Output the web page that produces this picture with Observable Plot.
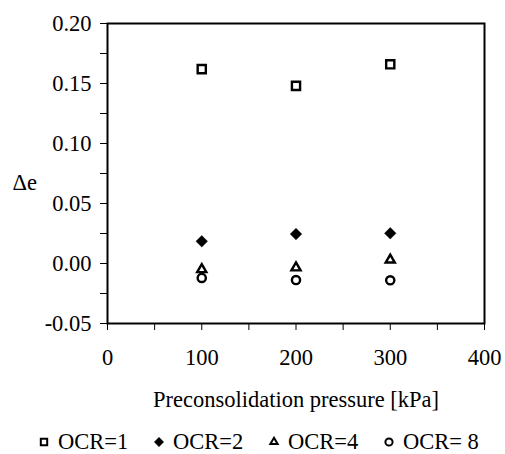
<!DOCTYPE html>
<html>
<head>
<meta charset="utf-8">
<script src="https://cdn.jsdelivr.net/npm/d3@7"></script>
<script src="https://cdn.jsdelivr.net/npm/@observablehq/plot@0.6"></script>
<style>
  html, body { margin: 0; padding: 0; background: #fff; font-family: 'Liberation Serif'; }
  #wrap { position: relative; width: 505px; height: 454px; font-family: 'Liberation Serif'; }
  #legend { position: absolute; left: 0; top: 429px; width: 505px; display: flex; padding-left: 38px; box-sizing: border-box; font-size: 22.5px; color: #000; font-family: 'Liberation Serif'; }
  .item { width: 115px; display: flex; align-items: center; white-space: nowrap; font-family: 'Liberation Serif'; }
  .item svg { margin-right: 8px; flex: none; }
  svg text { font-family: 'Liberation Serif'; }
</style>
</head>
<body>
<div id="wrap"><div id="chart"></div><div id="legend"></div></div>
<script>
// Data
const pressures = [100, 200, 300];
const ocr1 = [0.162, 0.148, 0.166];
const ocr2 = [0.0185, 0.0245, 0.0252];
const ocr4 = [-0.005, -0.0035, 0.003];
const ocr8 = [-0.012, -0.0138, -0.014];
const seriesNames = ["OCR=1", "OCR=2", "OCR=4", "OCR= 8"];
const xTicks = [0, 50, 100, 150, 200, 250, 300, 350, 400];
const xLabels = [0, 100, 200, 300, 400];
const yTicks = [-0.05, -0.025, 0, 0.025, 0.05, 0.075, 0.1, 0.125, 0.15, 0.175, 0.2];
const yLabels = [-0.05, 0, 0.05, 0.1, 0.15, 0.2];

const symbols = {"OCR=1": "square", "OCR=2": "diamond2", "OCR=4": "triangle", "OCR= 8": "circle"};
const fills = {"OCR=1": "white", "OCR=2": "black", "OCR=4": "white", "OCR= 8": "white"};
const radii = {"OCR=1": 4.6, "OCR=2": 5.2, "OCR=4": 3.4, "OCR= 8": 4.1};

const seriesValues = [ocr1, ocr2, ocr4, ocr8];
const rows = [];
seriesNames.forEach((name, i) => {
  pressures.forEach((p, j) => rows.push({series: name, p, de: seriesValues[i][j]}));
});

const isLabel = (list, d) => list.some(v => Math.abs(v - d) < 1e-9);

const chart = Plot.plot({
  width: 505,
  height: 424,
  marginLeft: 107,
  marginRight: 21,
  marginTop: 23,
  marginBottom: 101,
  style: "font-family: 'Liberation Serif'; font-size: 22.5px; color: #000; background: white; overflow: visible;",
  x: {domain: [0, 400]},
  y: {domain: [-0.05, 0.2]},
  marks: [
    Plot.axisX({ticks: xTicks, tickSize: 7, tickPadding: 19, label: null, strokeWidth: 1,
      tickFormat: d => isLabel(xLabels, d) ? String(d) : ""}),
    Plot.axisY({ticks: yTicks, tickSize: 7, tickPadding: 9, label: null, strokeWidth: 1,
      tickFormat: d => isLabel(yLabels, d) ? d.toFixed(2) : ""}),
    Plot.frame({stroke: "black", strokeWidth: 2}),
    ...seriesNames.map(name => Plot.dot(rows.filter(r => r.series === name), {
      x: "p", y: "de", symbol: () => symbols[name], r: radii[name],
      fill: fills[name], stroke: "black", strokeWidth: name === "OCR=2" ? 0.5 : 2.4
    })),
    Plot.text(["\u0394e"], {frameAnchor: "left", textAnchor: "start", dx: -95, dy: 9, fontSize: 22.5}),
    Plot.text(["Preconsolidation pressure [kPa]"], {frameAnchor: "bottom", dy: 83, fontSize: 22.5})
  ]
});
document.getElementById("chart").appendChild(chart);

// Legend
const legend = d3.select("#legend");
const symMap = {square: d3.symbolSquare, diamond2: d3.symbolDiamond2, triangle: d3.symbolTriangle, circle: d3.symbolCircle};
seriesNames.forEach(name => {
  const item = legend.append("div").attr("class", "item");
  const s = item.append("svg").attr("width", 12).attr("height", 12).attr("viewBox", "-6 -6 12 12");
  const r = name === "OCR=4" ? 2.7 : (name === "OCR=2" ? 4.2 : 3.6);
  s.append("path")
    .attr("d", d3.symbol(symMap[symbols[name]], Math.PI * r * r)())
    .attr("fill", fills[name]).attr("stroke", "black").attr("stroke-width", name === "OCR=2" ? 0.5 : 2);
  item.append("span").text(name);
});
</script>
</body>
</html>
